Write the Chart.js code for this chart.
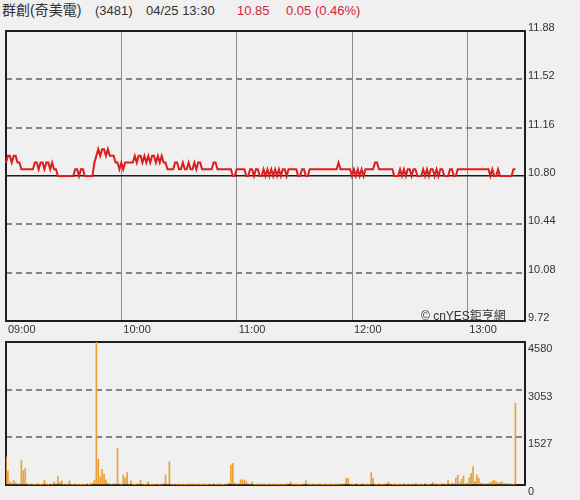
<!DOCTYPE html>
<html>
<head>
<meta charset="utf-8">
<script src="https://cdn.jsdelivr.net/npm/chart.js@4.4.1/dist/chart.umd.min.js"></script>
<style>
  html, body { margin: 0; padding: 0; background: #f0f0f0; width: 580px; height: 500px; overflow: hidden; }
  body { position: relative; font-family: "Liberation Sans", Arial, "Noto Sans CJK TC", sans-serif; }
  .t { position: absolute; top: 3px; font-size: 13px; line-height: 15px; color: #333; white-space: nowrap; }
  .red { color: #c8283c; }
  #priceBox { position: absolute; left: 0; top: 20px; width: 580px; height: 322px; }
  #volumeBox { position: absolute; left: 0; top: 332px; width: 580px; height: 168px; }
  #mark { position: absolute; left: 421px; top: 309px; font-size: 12px; line-height: 14px; color: #333; white-space: nowrap; }
</style>
</head>
<body>
<span class="t" style="left:2px;font-size:14px">群創(奇美電)</span>
<span class="t" style="left:95px">(3481)</span>
<span class="t" style="left:146px">04/25 13:30</span>
<span class="t red" style="left:237px">10.85</span>
<span class="t red" style="left:286px">0.05 (0.46%)</span>
<div id="priceBox"><canvas id="priceChart" width="580" height="322"></canvas></div>
<div id="volumeBox"><canvas id="volumeChart" width="580" height="168"></canvas></div>
<div id="mark">© cnYES鉅亨網</div>
<script>
// tick labels
const hourTicks = ['09:00', '10:00', '11:00', '12:00', '13:00'];
const priceTicks = [9.72, 10.08, 10.44, 10.80, 11.16, 11.52, 11.88];
const volumeTicks = [0, 1527, 3053, 4580];
const prevClose = 10.80;

// one category per minute, 09:00 .. 13:30
const minutes = [];
for (let m = 0; m <= 270; m++) {
  const h = 9 + Math.floor(m / 60);
  minutes.push(String(h).padStart(2, '0') + ':' + String(m % 60).padStart(2, '0'));
}

// price per minute (09:00 - 13:25)
const prices = [
  10.90, 10.95, 10.95, 10.90, 10.95, 10.95, 10.90, 10.90, 10.85, 10.85,
  10.85, 10.85, 10.85, 10.85, 10.85, 10.90, 10.90, 10.85, 10.90, 10.90,
  10.85, 10.90, 10.90, 10.85, 10.90, 10.85, 10.85, 10.80, 10.80, 10.80,
  10.80, 10.80, 10.80, 10.80, 10.80, 10.80, 10.85, 10.85, 10.80, 10.85,
  10.85, 10.80, 10.80, 10.80, 10.80, 10.80, 10.90, 10.95, 11.00, 10.95,
  11.00, 11.00, 10.95, 11.00, 10.95, 10.95, 10.95, 10.90, 10.90, 10.85,
  10.90, 10.85, 10.90, 10.90, 10.90, 10.90, 10.90, 10.95, 10.90, 10.95,
  10.95, 10.90, 10.95, 10.90, 10.95, 10.90, 10.95, 10.95, 10.90, 10.95,
  10.90, 10.95, 10.90, 10.90, 10.85, 10.85, 10.85, 10.85, 10.90, 10.90,
  10.85, 10.85, 10.90, 10.85, 10.85, 10.90, 10.85, 10.85, 10.90, 10.85,
  10.90, 10.90, 10.85, 10.85, 10.85, 10.85, 10.85, 10.85, 10.90, 10.90,
  10.85, 10.85, 10.85, 10.85, 10.85, 10.85, 10.85, 10.85, 10.80, 10.80,
  10.85, 10.85, 10.85, 10.85, 10.85, 10.80, 10.80, 10.85, 10.85, 10.80,
  10.85, 10.85, 10.80, 10.80, 10.85, 10.80, 10.85, 10.80, 10.85, 10.80,
  10.85, 10.80, 10.85, 10.80, 10.85, 10.85, 10.80, 10.85, 10.85, 10.85,
  10.85, 10.85, 10.80, 10.80, 10.85, 10.85, 10.80, 10.80, 10.85, 10.85,
  10.85, 10.85, 10.85, 10.85, 10.85, 10.85, 10.85, 10.85, 10.85, 10.85,
  10.85, 10.85, 10.85, 10.90, 10.85, 10.85, 10.85, 10.85, 10.85, 10.85,
  10.80, 10.85, 10.80, 10.85, 10.80, 10.85, 10.80, 10.85, 10.85, 10.85,
  10.85, 10.85, 10.90, 10.90, 10.85, 10.85, 10.85, 10.85, 10.85, 10.85,
  10.85, 10.85, 10.80, 10.80, 10.80, 10.85, 10.80, 10.85, 10.80, 10.85,
  10.85, 10.80, 10.85, 10.85, 10.80, 10.80, 10.80, 10.85, 10.80, 10.85,
  10.80, 10.85, 10.85, 10.80, 10.85, 10.80, 10.85, 10.85, 10.80, 10.80,
  10.80, 10.85, 10.85, 10.80, 10.80, 10.85, 10.85, 10.85, 10.85, 10.85,
  10.85, 10.85, 10.85, 10.85, 10.85, 10.85, 10.85, 10.85, 10.85, 10.85,
  10.85, 10.85, 10.80, 10.85, 10.80, 10.80, 10.85, 10.80, 10.80, 10.80,
  10.80, 10.80, 10.80, 10.80, 10.85, 10.85
];

// volume per minute (09:00 - 13:25)
const volumes = [
  900, 450, 100, 60, 160, 80, 40, 30, 800, 460,
  530, 40, 20, 30, 20, 10, 30, 20, 10, 20,
  160, 20, 10, 30, 20, 100, 40, 270, 80, 140,
  20, 30, 10, 140, 20, 10, 30, 10, 20, 10,
  20, 10, 30, 10, 20, 60, 160, 4580, 820, 270,
  500, 350, 160, 60, 30, 20, 40, 30, 1170, 40,
  20, 320, 230, 400, 30, 140, 20, 10, 30, 20,
  160, 20, 10, 20, 100, 10, 20, 10, 30, 20,
  10, 20, 40, 320, 30, 750, 20, 10, 30, 10,
  20, 10, 20, 10, 10, 20, 10, 20, 10, 10,
  20, 10, 10, 20, 10, 10, 20, 10, 30, 10,
  10, 20, 10, 10, 20, 30, 60, 640, 690, 60,
  30, 40, 160, 170, 160, 120, 40, 30, 100, 20,
  10, 20, 10, 10, 20, 10, 10, 20, 10, 10,
  20, 10, 10, 20, 10, 10, 20, 30, 100, 20,
  10, 20, 10, 10, 20, 30, 140, 20, 10, 10,
  20, 10, 10, 20, 10, 10, 20, 10, 10, 20,
  10, 10, 20, 10, 30, 20, 40, 210, 210, 30,
  20, 10, 40, 20, 10, 30, 20, 10, 20, 10,
  400, 210, 20, 10, 30, 20, 10, 20, 40, 100,
  20, 10, 20, 10, 10, 20, 10, 30, 10, 20,
  10, 20, 10, 30, 20, 10, 20, 10, 40, 20,
  10, 30, 80, 20, 30, 10, 20, 40, 30, 20,
  140, 30, 60, 40, 210, 320, 80, 180, 290, 40,
  60, 230, 370, 590, 120, 320, 210, 60, 40, 30,
  40, 60, 80, 120, 160, 100, 60, 80, 100, 40,
  60, 40, 30, 40, 20, 2620
];

const axisFont = { family: '"Liberation Sans", Arial, sans-serif', size: 11 };

// black frame round the plot area
const frame = {
  id: 'frame',
  beforeDatasetsDraw(chart) {
    const { ctx, chartArea: a } = chart;
    ctx.save();
    ctx.strokeStyle = '#1e1e1e';
    ctx.lineWidth = 2;
    ctx.strokeRect(a.left, a.top, a.right - a.left, a.bottom - a.top);
    ctx.restore();
  }
};

new Chart(document.getElementById('priceChart'), {
  type: 'line',
  data: {
    labels: minutes,
    datasets: [{
      data: prices,
      borderColor: '#dc1e1e',
      borderWidth: 2,
      pointRadius: 0,
      tension: 0
    }]
  },
  options: {
    responsive: false,
    animation: false,
    layout: { padding: { top: 11, left: 6, right: 0, bottom: 0 } },
    plugins: { legend: { display: false }, tooltip: { enabled: false } },
    scales: {
      x: {
        offset: false,
        afterBuildTicks: s => { s.ticks = s.ticks.filter(t => hourTicks.includes(minutes[t.value])); },
        afterFit: s => { s.height = 21; },
        grid: { color: '#8c8c8c', lineWidth: 1, drawTicks: false },
        border: { display: false },
        ticks: { autoSkip: false, maxRotation: 0, align: 'start', padding: 2, labelOffset: 2, font: axisFont, color: '#333' }
      },
      y: {
        position: 'right',
        min: 9.72,
        max: 11.88,
        afterBuildTicks: s => { s.ticks = priceTicks.map(v => ({ value: v })); },
        afterFit: s => { s.width = 55; },
        grid: {
          drawTicks: false,
          color: c => c.tick && c.tick.value === prevClose ? '#1e1e1e' : '#858585',
          lineWidth: c => c.tick && c.tick.value === prevClose ? 1.5 : 2
        },
        border: { display: false, dash: c => c.tick && c.tick.value === prevClose ? [] : [6, 4] },
        ticks: { padding: 3, labelOffset: -3, font: axisFont, color: '#333', callback: v => v.toFixed(2) }
      }
    }
  },
  plugins: [frame]
});

new Chart(document.getElementById('volumeChart'), {
  type: 'bar',
  data: {
    labels: minutes,
    datasets: [{
      data: volumes,
      backgroundColor: '#ee9f30',
      barThickness: 1,
      borderWidth: 0
    }]
  },
  options: {
    responsive: false,
    animation: false,
    layout: { padding: { top: 10, left: 6, right: 0, bottom: 15 } },
    plugins: { legend: { display: false }, tooltip: { enabled: false } },
    scales: {
      x: { display: false, offset: false },
      y: {
        position: 'right',
        min: 0,
        max: 4580,
        afterBuildTicks: s => { s.ticks = volumeTicks.map(v => ({ value: v })); },
        afterFit: s => { s.width = 55; },
        grid: {
          drawTicks: false,
          color: c => c.tick && (c.tick.value === 0 || c.tick.value === 4580) ? 'rgba(0,0,0,0)' : '#858585',
          lineWidth: 2
        },
        border: { display: false, dash: [6, 4] },
        ticks: { padding: 3, labelOffset: 7, font: axisFont, color: '#333', callback: v => String(v) }
      }
    }
  },
  plugins: [frame]
});
</script>
</body>
</html>
